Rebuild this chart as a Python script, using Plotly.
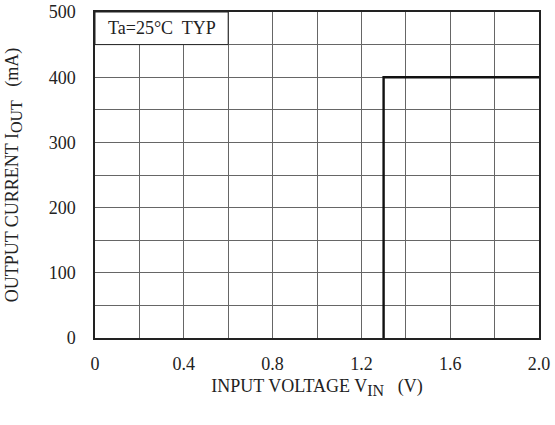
import plotly.graph_objects as go

vin = [1.3, 1.3, 2.0]
iout = [0, 400, 400]
x_ticks = [0, 0.4, 0.8, 1.2, 1.6, 2.0]
x_labels = ["0", "0.4", "0.8", "1.2", "1.6", "2.0"]
y_ticks = [0, 100, 200, 300, 400, 500]

font = "Liberation Serif"
fs = 18
fig = go.Figure()
fig.add_trace(go.Scatter(x=vin, y=iout, mode="lines",
                         line=dict(color="#111111", width=2.4), showlegend=False))

fig.add_shape(type="rect", x0=0, x1=0.6, y0=450, y1=500, xref="x", yref="y",
              fillcolor="white", line=dict(color="#222222", width=1), layer="between")
fig.add_annotation(x=0.3, y=475, xref="x", yref="y", text="Ta=25°C  TYP",
                   showarrow=False, font=dict(family=font, size=fs, color="#222222"))

sub = "<sub><span style='font-size:16px'>{}</span></sub>"

fig.update_xaxes(range=[0, 2.0], tickvals=x_ticks, ticktext=x_labels, automargin=False,
                 showgrid=True, gridcolor="#666666", gridwidth=1,
                 minor=dict(dtick=0.2, showgrid=True, gridcolor="#666666", gridwidth=1),
                 showline=True, linecolor="#222222", linewidth=1.5, mirror=True,
                 ticks="", zeroline=False, ticklabelstandoff=9, ticklabeloverflow="allow",
                 tickfont=dict(family=font, size=fs, color="#222222"),
                 title=dict(text="INPUT VOLTAGE V" + sub.format("IN") + "   (V)",
                            font=dict(family=font, size=fs, color="#222222"), standoff=6))
fig.update_yaxes(range=[0, 500], tickvals=y_ticks, automargin=False,
                 showgrid=True, gridcolor="#666666", gridwidth=1,
                 minor=dict(dtick=50, showgrid=True, gridcolor="#666666", gridwidth=1),
                 showline=True, linecolor="#222222", linewidth=1.5, mirror=True,
                 ticks="", zeroline=False, ticklabelstandoff=14, ticklabeloverflow="allow",
                 tickfont=dict(family=font, size=fs, color="#222222"),
                 title=dict(text="OUTPUT CURRENT I" + sub.format("OUT") + "   (mA)",
                            font=dict(family=font, size=fs, color="#222222"), standoff=25))

fig.update_layout(width=555, height=425, plot_bgcolor="white", paper_bgcolor="white",
                  margin=dict(l=95, r=16, t=12, b=87))
fig.write_html("out.html", config={"displayModeBar": False},
               post_script="document.body.style.margin='0';")
